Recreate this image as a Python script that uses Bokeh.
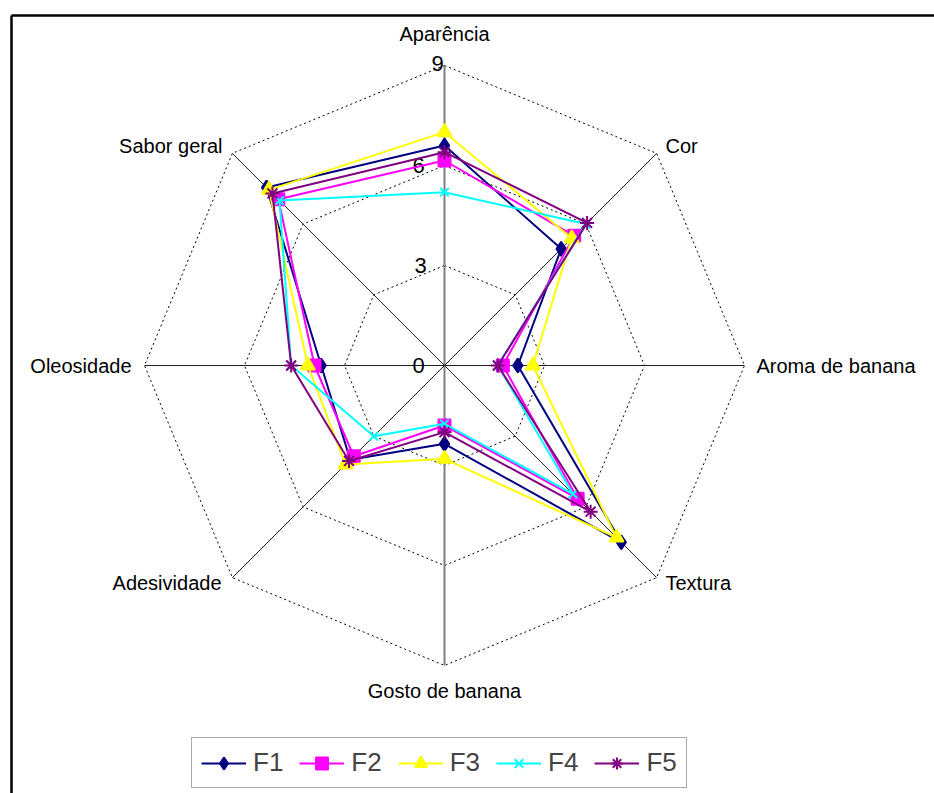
import numpy as np
from bokeh.plotting import figure
from bokeh.models import Range1d, Legend, LegendItem, ColumnDataSource
from bokeh.core.properties import value
from bokeh.embed import file_html
from bokeh.resources import INLINE

categories = ["Aparência", "Cor", "Aroma de banana", "Textura",
              "Gosto de banana", "Adesividade", "Oleosidade", "Sabor geral"]
F1 = [6.6, 4.95, 2.2, 7.5, 2.35, 4.0, 3.7, 7.55]
F2 = [6.15, 5.5, 1.75, 5.65, 1.8, 3.85, 3.9, 7.05]
F3 = [7.0, 5.4, 2.65, 7.3, 2.8, 4.2, 4.1, 7.45]
F4 = [5.2, 6.0, 1.6, 5.45, 1.75, 3.0, 4.6, 7.0]
F5 = [6.4, 6.05, 1.6, 6.2, 2.0, 4.05, 4.6, 7.3]
series_names = ["F1", "F2", "F3", "F4", "F5"]
tick_values = [0, 3, 6, 9]
tick_labels = ["0", "3", "6", "9"]
r_max = 9

colors = ["#000080", "#FF00FF", "#FFFF00", "#00FFFF", "#800080"]
markers = ["diamond", "square", "triangle", "x", "asterisk"]
msizes = [14, 12, 14, 12, 14]

FONT = "Liberation Sans"
W, H = 934, 793
cx, cy = 444, 365  # center in figure px from left / top
S = 300.0 / r_max  # px per unit

p = figure(width=W, height=H, output_backend="svg", toolbar_location=None,
           x_range=Range1d(-cx, W - cx), y_range=Range1d(cy - H, cy),
           min_border=0, outline_line_color=None)
p.axis.visible = False
p.grid.visible = False
p.background_fill_color = "white"
p.border_fill_color = "white"

n = len(categories)
ang = np.pi / 2 - np.arange(n) * 2 * np.pi / n
ca, sa = np.cos(ang), np.sin(ang)

# frame lines (top and left)
p.line([-cx + 11, W - cx], [cy - 15, cy - 15], line_color="black", line_width=2.5)
p.line([-cx + 11, -cx + 11], [cy - 15, cy - H], line_color="black", line_width=2.5)

# grid octagons
for t in tick_values[1:]:
    xs = list(t * S * ca) + [t * S * ca[0]]
    ys = list(t * S * sa) + [t * S * sa[0]]
    p.line(xs, ys, line_color="black", line_width=1, line_dash="2 3")

# spokes
for i in range(n):
    col = "#808080" if i in (0, 4) else "#222222"
    lw = 2 if i in (0, 4) else 1
    p.line([0, r_max * S * ca[i]], [0, r_max * S * sa[i]], line_color=col, line_width=lw)

# tick labels
tick_x = [-26, -24, -26, -7]
tick_y = [t * S for t in tick_values]
tick_y[-1] = 302
p.text(x=tick_x, y=tick_y, text=tick_labels, text_font=value(FONT),
       text_font_size="22px", text_align="center", text_baseline="middle", text_color="black")

# category labels
lab_x = [0, 221, 312, 221, 0, -223, -313, -222]
lab_y = [332, 220, 0, -217, -325, -217, 0, 220]
aligns = ["center", "left", "left", "left", "center", "right", "right", "right"]
src_lab = ColumnDataSource(dict(x=lab_x, y=lab_y, t=categories, a=aligns))
p.text(x="x", y="y", text="t", text_align="a", source=src_lab, text_font=value(FONT),
       text_font_size="20px", text_baseline="middle", text_color="black")

# series
items = []
for name, vals, col, mk, ms in zip(series_names, [F1, F2, F3, F4, F5], colors, markers, msizes):
    v = np.array(vals)
    xs = list(v * S * ca) + [v[0] * S * ca[0]]
    ys = list(v * S * sa) + [v[0] * S * sa[0]]
    lr = p.line(xs, ys, line_color=col, line_width=2)
    sr = p.scatter(list(v * S * ca), list(v * S * sa), marker=mk, size=ms,
                   fill_color=col, line_color=col, line_width=2)
    items.append(LegendItem(label=name, renderers=[lr, sr]))

legend = Legend(items=items, orientation="horizontal", location=(191, 5),
                label_text_font=FONT, label_text_font_size="26px",
                glyph_width=45, glyph_height=30, label_standoff=7, spacing=16,
                padding=9, margin=0, border_line_color="#555555", border_line_width=1.5,
                background_fill_alpha=1)
p.add_layout(legend, "center")

open("out.html", "w").write(file_html(p, INLINE))
